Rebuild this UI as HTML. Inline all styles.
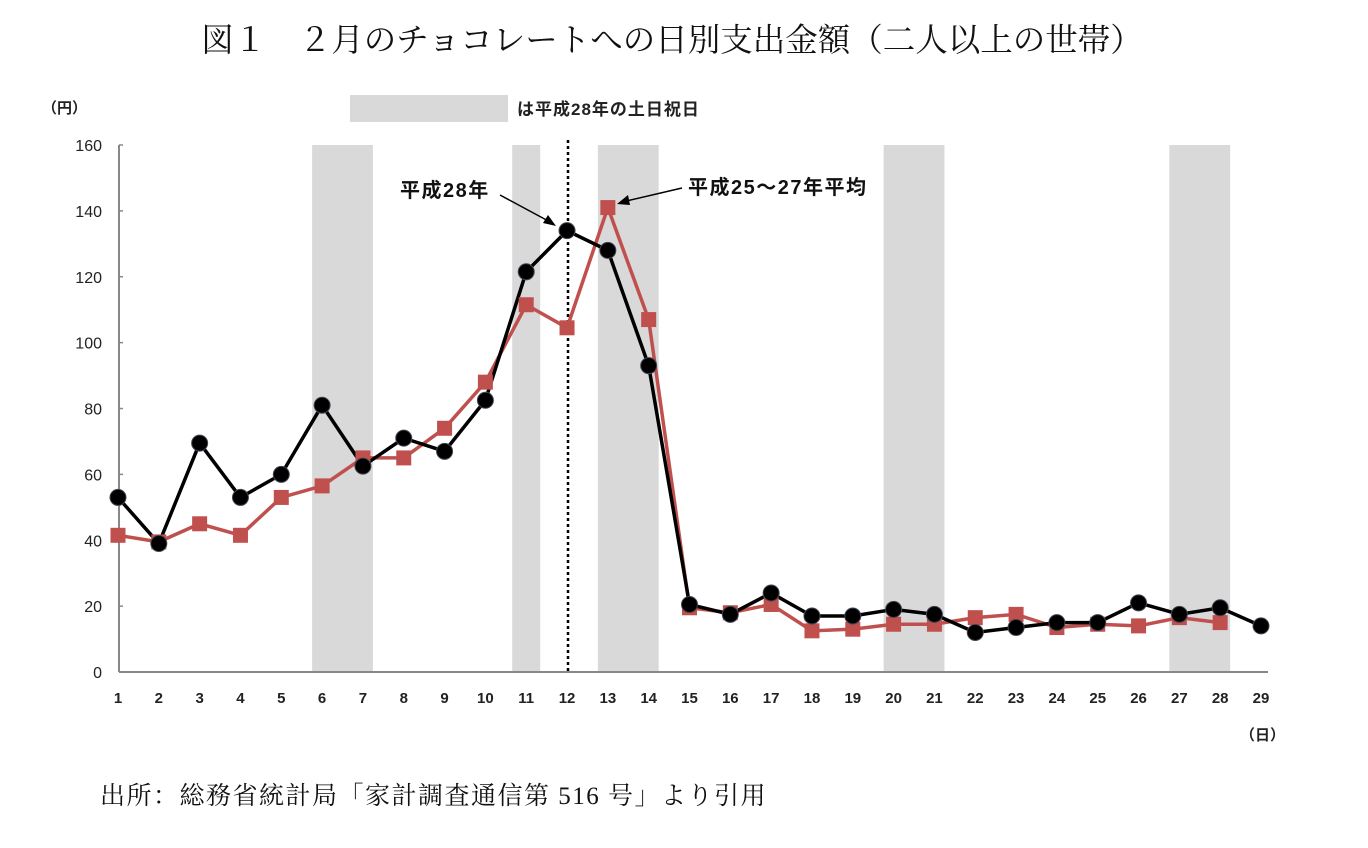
<!DOCTYPE html>
<html><head><meta charset="utf-8">
<style>
html,body{margin:0;padding:0;background:#fff;}
body{width:1368px;height:843px;overflow:hidden;position:relative;}
svg text{font-family:"Liberation Sans","Noto Sans CJK JP",sans-serif;}
.serif{font-family:"Liberation Serif","Noto Serif CJK SC",serif !important;}
</style></head>
<body>
<svg id="chart" width="1368" height="843" xmlns="http://www.w3.org/2000/svg">
<text class="serif" x="672" y="51" font-size="32.5" text-anchor="middle" fill="#111">図１　２月のチョコレートへの日別支出金額（二人以上の世帯）</text>
<text x="42" y="113" font-size="15" font-weight="bold" fill="#222">（円）</text>
<rect x="350" y="95" width="158" height="27" fill="#d9d9d9"/>
<text x="517" y="115" font-size="17" letter-spacing="1" font-weight="bold" fill="#222">は平成28年の土日祝日</text>
<g id="bands"></g>
<g id="axes"></g>
<line x1="568" y1="140" x2="568" y2="672" stroke="#000" stroke-width="2.5" stroke-dasharray="3,3"/>
<g id="series"></g>
<text x="400" y="197" font-size="20" letter-spacing="1.5" font-weight="bold" fill="#111">平成28年</text>
<line x1="500" y1="195" x2="552" y2="223" stroke="#000" stroke-width="1.5"/>
<polygon points="556,226 543,223 548,215" fill="#000"/>
<text x="688" y="194" font-size="20" letter-spacing="1.5" font-weight="bold" fill="#111">平成25～27年平均</text>
<line x1="682" y1="188" x2="622" y2="202" stroke="#000" stroke-width="1.5"/>
<polygon points="617,204 628,195 630,205" fill="#000"/>
<text x="1240" y="740" font-size="15" font-weight="bold" fill="#222">（日）</text>
<text class="serif" x="100" y="804" font-size="25" letter-spacing="1.5" fill="#111">出所：総務省統計局「家計調査通信第 516 号」より引用</text>
</svg>
<script>
const days=[1,2,3,4,5,6,7,8,9,10,11,12,13,14,15,16,17,18,19,20,21,22,23,24,25,26,27,28,29];
const series2016=[53,39,69.5,53,60,81,62.5,71,67,82.5,121.5,134,128,93,20.5,17.5,24,17,17,19,17.5,12,13.5,15,15,21,17.5,19.5,14];
const seriesAvg=[41.5,39.5,45,41.5,53,56.5,65,65,74,88,111.5,104.5,141,107,19.5,18,20.5,12.5,13,14.5,14.5,16.5,17.5,13.5,14.5,14,16.5,15];
const yTicks=[0,20,40,60,80,100,120,140,160];
const holidayBands=[[6,7],[11,11],[13,14],[20,21],[27,28]];
const NS='http://www.w3.org/2000/svg';
const x=d=>118+(d-1)*(1261-118)/28;
const y=v=>672-v*(672-145)/160;
function mk(tag,attrs,parent){const e=document.createElementNS(NS,tag);for(const k in attrs)e.setAttribute(k,attrs[k]);parent.appendChild(e);return e;}
const bands=document.getElementById('bands'),axes=document.getElementById('axes'),ser=document.getElementById('series');
holidayBands.forEach(b=>{
 const pad=b[0]===b[1]?14:10;
 const r=mk('rect',{x:x(b[0])-pad,y:y(160),width:x(b[1])-x(b[0])+2*pad,height:y(0)-y(160),fill:'#d9d9d9'},bands);
 
 
});
const ya=mk('line',{x1:119,y1:y(160),x2:119,y2:y(0),stroke:'#888','stroke-width':2},axes);


const xa=mk('line',{x1:119,y1:y(0),x2:1268,y2:y(0),stroke:'#888','stroke-width':2},axes);


yTicks.forEach(t=>{
 mk('line',{x1:119,y1:y(t),x2:123,y2:y(t),stroke:'#888','stroke-width':1.5},axes);
 const tx=mk('text',{x:102,y:y(t)+6,'font-size':16,'text-anchor':'end',fill:'#222'},axes);
 tx.textContent=t;
 
 
});
days.forEach(d=>{
 const tx=mk('text',{x:x(d),y:703,'font-size':15,'font-weight':'bold','text-anchor':'middle',fill:'#222'},axes);
 tx.textContent=d;
 
 
});
function line(vals,color,name){
 const pts=vals.map((v,i)=>x(days[i])+','+y(v)).join(' ');
 const p=mk('polyline',{points:pts,fill:'none',stroke:color,'stroke-width':3.5},ser);
 
 
}
line(seriesAvg,'#c0504d','average-line');
line(series2016,'#000','line-2016');
seriesAvg.forEach((v,i)=>{
 const r=mk('rect',{x:x(days[i])-7.5,y:y(v)-7.5,width:15,height:15,fill:'#c0504d'},ser);
 
 
});
series2016.forEach((v,i)=>{
 const c=mk('circle',{cx:x(days[i]),cy:y(v),r:8,fill:'#000',stroke:'#445',"stroke-width":1},ser);
 
 
});
</script>
</body></html>
